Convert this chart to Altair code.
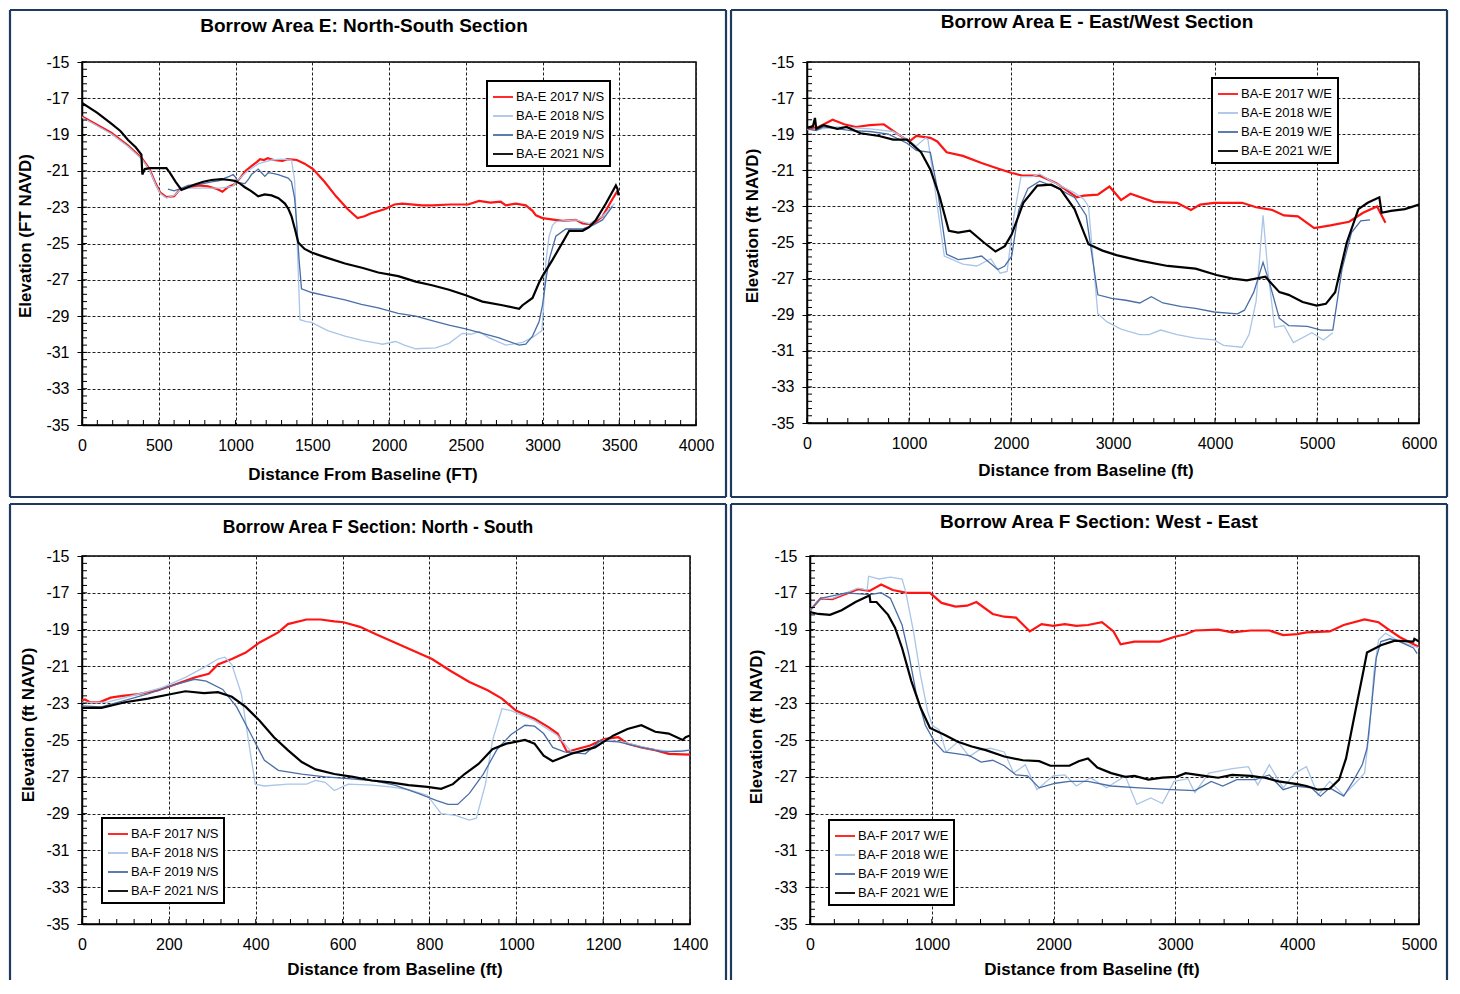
import altair as alt
import pandas as pd

FONT = "Liberation Sans"
NAVY = "#1f3a5f"
COLORS = ["#ff1414", "#a9c5e8", "#4a6ea6", "#000000"]
WIDTHS = [2.2, 1.3, 1.3, 2.2]

# ---------------- Panel 1: Borrow Area E North-South ----------------
E_NS_LABELS = ["BA-E 2017 N/S", "BA-E 2018 N/S", "BA-E 2019 N/S", "BA-E 2021 N/S"]
E_NS_17_X = [0, 190, 300, 390, 440, 480, 510, 550, 600, 640, 700, 760, 820, 880, 915, 950, 990, 1030, 1065, 1110, 1140, 1160, 1185, 1210, 1250, 1305, 1340, 1400, 1450, 1505, 1580, 1655, 1730, 1795, 1840, 1880, 1975, 2035, 2087, 2215, 2283, 2400, 2515, 2587, 2660, 2728, 2761, 2826, 2891, 2935, 2957, 3000, 3130, 3217, 3261, 3326, 3391, 3456, 3489]
E_NS_17_Y = [-18.0, -18.9, -19.6, -20.3, -20.9, -21.7, -22.2, -22.45, -22.4, -22.0, -21.9, -21.8, -21.85, -22.0, -22.15, -21.9, -21.75, -21.4, -21.0, -20.7, -20.5, -20.35, -20.4, -20.3, -20.4, -20.45, -20.35, -20.4, -20.6, -20.9, -21.6, -22.4, -23.1, -23.6, -23.5, -23.35, -23.1, -22.85, -22.8, -22.9, -22.9, -22.85, -22.85, -22.65, -22.75, -22.7, -22.9, -22.8, -22.9, -23.2, -23.45, -23.6, -23.75, -23.7, -23.9, -23.95, -23.5, -22.55, -22.1]
E_NS_18_X = [0, 190, 300, 390, 440, 480, 510, 550, 600, 640, 700, 800, 900, 980, 1015, 1080, 1150, 1235, 1300, 1365, 1385, 1400, 1420, 1460, 1495, 1600, 1713, 1830, 1930, 1957, 2043, 2100, 2174, 2304, 2391, 2478, 2533, 2587, 2652, 2761, 2870, 2940, 2996, 3010, 3022, 3043, 3065, 3087, 3217, 3304, 3391, 3440, 3470]
E_NS_18_Y = [-18.05, -18.95, -19.65, -20.35, -20.95, -21.75, -22.25, -22.5, -22.35, -22.05, -21.95, -21.95, -21.95, -21.85, -21.5, -21.0, -20.6, -20.4, -20.35, -20.4, -21.5, -24.5, -29.2, -29.3, -29.35, -29.8, -30.1, -30.35, -30.5, -30.55, -30.4, -30.6, -30.8, -30.75, -30.5, -29.95, -30.0, -29.85, -30.2, -30.6, -30.45, -30.15, -29.8, -28.0, -26.0, -24.6, -24.0, -23.8, -23.7, -23.9, -23.5, -23.05, -22.8]
E_NS_19_X = [560, 600, 650, 691, 760, 843, 890, 930, 960, 985, 1000, 1017, 1061, 1085, 1104, 1148, 1170, 1191, 1213, 1250, 1278, 1343, 1365, 1385, 1398, 1415, 1430, 1496, 1600, 1713, 1820, 1930, 2060, 2174, 2280, 2391, 2500, 2609, 2717, 2848, 2891, 2935, 2978, 3000, 3022, 3043, 3087, 3152, 3261, 3326, 3391, 3456]
E_NS_19_Y = [-22.0, -22.1, -21.95, -21.8, -21.75, -21.6, -21.55, -21.4, -21.3, -21.2, -21.35, -21.65, -21.7, -21.45, -21.2, -20.9, -21.1, -21.3, -21.1, -21.15, -21.2, -21.4, -21.6, -22.5, -23.8, -26.0, -27.5, -27.7, -27.9, -28.1, -28.35, -28.55, -28.85, -29.0, -29.25, -29.5, -29.7, -29.95, -30.2, -30.6, -30.55, -30.1, -29.3, -28.4, -27.0, -25.9, -24.6, -24.2, -24.2, -24.0, -23.7, -22.95]
E_NS_21_X = [0, 100, 191, 250, 300, 350, 387, 393, 409, 441, 500, 550, 572, 610, 648, 690, 735, 790, 843, 909, 960, 996, 1030, 1061, 1100, 1148, 1190, 1235, 1280, 1322, 1345, 1365, 1390, 1409, 1450, 1496, 1583, 1713, 1830, 1930, 2060, 2174, 2280, 2391, 2500, 2609, 2739, 2848, 2870, 2935, 2978, 3000, 3065, 3130, 3174, 3261, 3304, 3348, 3413, 3478, 3489, 3495]
E_NS_21_Y = [-17.25, -17.8, -18.4, -18.8, -19.3, -19.7, -20.1, -21.2, -20.9, -20.85, -20.85, -20.85, -21.1, -21.6, -22.05, -21.9, -21.75, -21.6, -21.5, -21.45, -21.5, -21.55, -21.7, -21.9, -22.1, -22.4, -22.3, -22.35, -22.5, -22.8, -23.1, -23.5, -24.3, -24.95, -25.3, -25.5, -25.75, -26.1, -26.35, -26.6, -26.8, -27.1, -27.3, -27.55, -27.85, -28.2, -28.4, -28.6, -28.4, -28.0, -27.15, -26.8, -25.9, -24.95, -24.3, -24.3, -24.1, -23.7, -22.8, -21.8, -22.0, -22.35]

# ---------------- Panel 2: Borrow Area E East/West ----------------
E_WE_LABELS = ["BA-E 2017 W/E", "BA-E 2018 W/E", "BA-E 2019 W/E", "BA-E 2021 W/E"]
E_WE_17_X = [0, 114, 251, 365, 479, 616, 753, 890, 1004, 1072, 1209, 1277, 1369, 1528, 1711, 1870, 2007, 2121, 2281, 2440, 2532, 2646, 2714, 2851, 2965, 3079, 3171, 3399, 3627, 3764, 3855, 3992, 4266, 4403, 4562, 4676, 4813, 4973, 5132, 5315, 5452, 5589, 5671]
E_WE_17_Y = [-18.7, -18.6, -18.2, -18.45, -18.6, -18.5, -18.45, -19.0, -19.4, -19.1, -19.2, -19.4, -20.0, -20.2, -20.6, -20.9, -21.15, -21.3, -21.3, -21.7, -22.05, -22.5, -22.4, -22.35, -21.9, -22.65, -22.3, -22.75, -22.8, -23.2, -22.9, -22.8, -22.8, -23.05, -23.2, -23.5, -23.55, -24.2, -24.05, -23.85, -23.35, -23.0, -23.9]
E_WE_18_X = [0, 91, 297, 616, 844, 981, 1072, 1163, 1186, 1255, 1346, 1528, 1665, 1802, 1893, 1962, 2030, 2098, 2212, 2281, 2395, 2623, 2714, 2760, 2851, 2942, 3079, 3262, 3353, 3467, 3627, 3809, 3992, 4083, 4266, 4334, 4403, 4471, 4517, 4585, 4676, 4768, 4950, 5064, 5155]
E_WE_18_Y = [-18.75, -18.75, -18.6, -18.7, -18.85, -19.3, -19.65, -19.2, -19.3, -22.05, -25.75, -26.2, -26.3, -25.9, -26.7, -26.6, -23.5, -21.35, -21.35, -21.2, -21.6, -22.25, -22.6, -23.0, -28.95, -29.4, -29.8, -30.1, -30.1, -29.85, -30.1, -30.3, -30.4, -30.7, -30.8, -30.1, -28.25, -23.5, -26.5, -29.7, -29.6, -30.55, -30.0, -30.4, -30.0]
E_WE_19_X = [0, 91, 160, 433, 616, 798, 981, 1072, 1209, 1277, 1369, 1483, 1620, 1711, 1870, 1939, 2007, 2076, 2167, 2281, 2440, 2623, 2737, 2851, 2988, 3125, 3262, 3376, 3490, 3673, 3809, 3992, 4220, 4289, 4380, 4471, 4540, 4631, 4722, 4905, 5041, 5155, 5246, 5338, 5429, 5520]
E_WE_19_Y = [-18.7, -18.8, -18.6, -18.8, -18.85, -19.0, -19.5, -19.9, -20.0, -22.0, -25.65, -25.95, -25.85, -25.75, -26.5, -26.3, -25.75, -23.2, -22.0, -21.6, -21.95, -22.5, -23.5, -27.9, -28.1, -28.2, -28.35, -28.0, -28.35, -28.55, -28.65, -28.85, -28.95, -28.75, -27.75, -26.1, -27.35, -29.2, -29.6, -29.65, -29.85, -29.85, -26.45, -24.45, -23.8, -23.75]
E_WE_21_X = [0, 59, 78, 91, 160, 297, 388, 525, 707, 844, 981, 1118, 1209, 1300, 1391, 1483, 1597, 1734, 1848, 1939, 2007, 2121, 2258, 2395, 2486, 2623, 2760, 2897, 3034, 3262, 3536, 3809, 4015, 4175, 4312, 4494, 4631, 4722, 4859, 4996, 5087, 5178, 5292, 5406, 5497, 5611, 5634, 5725, 5862, 6000]
E_WE_21_Y = [-18.65, -18.55, -18.1, -18.7, -18.5, -18.7, -18.6, -18.95, -19.1, -19.3, -19.3, -20.0, -20.95, -22.45, -24.35, -24.45, -24.35, -25.0, -25.5, -25.2, -24.55, -22.8, -21.85, -21.8, -22.05, -23.15, -25.1, -25.45, -25.7, -26.0, -26.3, -26.45, -26.8, -27.0, -27.1, -26.9, -27.75, -27.9, -28.3, -28.5, -28.4, -27.75, -25.0, -23.15, -22.8, -22.5, -23.35, -23.25, -23.15, -22.9]

# ---------------- Panel 3: Borrow Area F North-South ----------------
F_NS_LABELS = ["BA-F 2017 N/S", "BA-F 2018 N/S", "BA-F 2019 N/S", "BA-F 2021 N/S"]
F_NS_17_X = [0, 7, 18, 40, 66, 93, 131, 174, 206, 259, 292, 313, 345, 377, 409, 452, 474, 517, 549, 581, 602, 640, 677, 720, 763, 806, 849, 892, 934, 967, 999, 1042, 1074, 1095, 1117, 1138, 1170, 1202, 1235, 1256, 1288, 1320, 1351, 1400]
F_NS_17_Y = [-22.85, -22.8, -22.95, -22.95, -22.7, -22.6, -22.5, -22.3, -22.05, -21.6, -21.4, -20.9, -20.6, -20.25, -19.7, -19.15, -18.7, -18.45, -18.45, -18.55, -18.6, -18.85, -19.25, -19.7, -20.15, -20.6, -21.25, -21.85, -22.3, -22.75, -23.4, -23.85, -24.3, -24.65, -25.65, -25.5, -25.3, -24.95, -24.85, -25.2, -25.4, -25.55, -25.75, -25.8]
F_NS_18_X = [0, 56, 131, 184, 238, 281, 313, 329, 345, 367, 388, 399, 420, 474, 517, 538, 560, 581, 613, 667, 710, 752, 795, 827, 860, 892, 908, 929, 945, 967, 988, 1042, 1095, 1127, 1170, 1202, 1245, 1310, 1351, 1400]
F_NS_18_Y = [-22.95, -22.95, -22.5, -22.15, -21.6, -21.05, -20.6, -20.5, -20.9, -22.5, -25.75, -27.4, -27.5, -27.4, -27.4, -27.2, -27.3, -27.75, -27.4, -27.45, -27.55, -27.7, -28.0, -29.0, -29.1, -29.35, -29.25, -27.4, -25.05, -23.3, -23.4, -23.95, -24.75, -25.65, -25.55, -25.0, -25.1, -25.5, -25.6, -25.55]
F_NS_19_X = [0, 45, 99, 152, 206, 259, 286, 324, 356, 388, 420, 452, 506, 560, 613, 667, 720, 774, 817, 843, 865, 892, 924, 956, 988, 1020, 1042, 1063, 1084, 1111, 1159, 1192, 1235, 1288, 1340, 1383, 1400]
F_NS_19_Y = [-23.15, -23.2, -22.85, -22.5, -22.05, -21.7, -21.8, -22.25, -23.2, -24.65, -26.1, -26.65, -26.85, -27.0, -27.1, -27.2, -27.45, -27.9, -28.3, -28.5, -28.5, -27.9, -26.85, -25.5, -24.7, -24.2, -24.25, -24.65, -25.4, -25.65, -25.75, -25.05, -25.1, -25.4, -25.65, -25.6, -25.55]
F_NS_21_X = [0, 45, 99, 152, 206, 238, 281, 313, 345, 377, 409, 442, 474, 506, 538, 581, 624, 667, 710, 752, 795, 827, 854, 881, 913, 945, 977, 1020, 1042, 1063, 1084, 1127, 1181, 1224, 1256, 1288, 1320, 1351, 1383, 1390, 1400]
F_NS_21_Y = [-23.25, -23.25, -22.95, -22.75, -22.5, -22.35, -22.45, -22.4, -22.65, -23.2, -23.95, -24.85, -25.55, -26.2, -26.6, -26.85, -27.0, -27.2, -27.3, -27.45, -27.55, -27.65, -27.4, -26.85, -26.3, -25.5, -25.2, -25.0, -25.2, -25.85, -26.15, -25.75, -25.4, -24.75, -24.4, -24.2, -24.55, -24.65, -25.0, -24.85, -24.75]

# ---------------- Panel 4: Borrow Area F West-East ----------------
F_WE_LABELS = ["BA-F 2017 W/E", "BA-F 2018 W/E", "BA-F 2019 W/E", "BA-F 2021 W/E"]
F_WE_17_X = [0, 88, 183, 298, 393, 489, 584, 679, 794, 985, 1080, 1195, 1290, 1366, 1500, 1595, 1691, 1805, 1901, 1996, 2092, 2187, 2282, 2397, 2492, 2550, 2664, 2874, 2989, 3084, 3160, 3351, 3466, 3618, 3771, 3885, 4000, 4076, 4267, 4382, 4553, 4668, 4763, 4840, 5000]
F_WE_17_Y = [-17.95, -17.3, -17.35, -17.05, -16.8, -16.9, -16.55, -16.85, -17.0, -17.0, -17.55, -17.75, -17.7, -17.5, -18.15, -18.3, -18.35, -19.1, -18.7, -18.8, -18.7, -18.8, -18.75, -18.6, -19.1, -19.8, -19.65, -19.65, -19.4, -19.25, -19.05, -19.0, -19.15, -19.05, -19.05, -19.3, -19.25, -19.15, -19.1, -18.75, -18.45, -18.6, -19.05, -19.4, -19.95]
F_WE_18_X = [0, 88, 183, 393, 469, 481, 565, 660, 756, 786, 851, 908, 966, 1004, 1061, 1118, 1214, 1309, 1385, 1481, 1595, 1672, 1767, 1863, 1996, 2092, 2187, 2302, 2435, 2588, 2683, 2798, 2893, 2989, 3103, 3160, 3275, 3466, 3599, 3676, 3771, 3885, 3981, 4076, 4172, 4267, 4382, 4477, 4553, 4592, 4630, 4668, 4725, 4840, 5000]
F_WE_18_Y = [-17.95, -17.3, -17.3, -16.75, -16.85, -16.1, -16.25, -16.15, -16.25, -16.95, -19.15, -21.5, -23.45, -24.2, -24.45, -25.65, -25.1, -25.9, -25.55, -25.45, -25.65, -26.8, -26.35, -27.7, -26.95, -26.9, -27.5, -27.05, -27.6, -26.95, -28.5, -28.15, -28.45, -27.25, -27.1, -27.85, -26.8, -26.55, -26.45, -27.45, -26.35, -27.6, -26.8, -26.45, -28.0, -27.25, -28.0, -27.35, -26.8, -24.55, -21.3, -19.55, -19.2, -19.65, -20.0]
F_WE_19_X = [0, 88, 298, 489, 584, 660, 756, 813, 870, 947, 1023, 1099, 1214, 1309, 1405, 1500, 1595, 1691, 1786, 1882, 2015, 2130, 2282, 2473, 2702, 2969, 3160, 3294, 3389, 3504, 3656, 3771, 3885, 3981, 4115, 4191, 4267, 4382, 4458, 4534, 4573, 4611, 4649, 4687, 4763, 4840, 4954, 4985]
F_WE_19_Y = [-17.95, -17.3, -17.0, -17.1, -17.0, -17.3, -18.75, -20.4, -22.4, -24.2, -25.1, -25.65, -25.75, -25.85, -26.2, -26.1, -26.4, -26.9, -26.95, -27.6, -27.35, -27.25, -27.25, -27.5, -27.6, -27.7, -27.75, -27.25, -27.5, -27.15, -27.15, -26.9, -27.7, -27.5, -27.6, -28.05, -27.6, -28.05, -27.25, -26.35, -25.45, -23.1, -20.55, -19.65, -19.5, -19.65, -20.0, -20.3]
F_WE_21_X = [0, 69, 164, 260, 374, 469, 489, 496, 546, 641, 698, 756, 832, 908, 985, 1099, 1214, 1328, 1443, 1595, 1748, 1882, 1973, 2130, 2206, 2282, 2359, 2473, 2588, 2664, 2779, 2893, 3008, 3084, 3237, 3351, 3466, 3618, 3733, 3847, 4000, 4076, 4172, 4267, 4344, 4401, 4477, 4542, 4573, 4687, 4802, 4954, 4962, 5000]
F_WE_21_Y = [-18.05, -18.15, -18.2, -17.95, -17.5, -17.2, -17.15, -17.5, -17.5, -18.2, -18.9, -20.0, -21.8, -23.25, -24.35, -24.7, -25.1, -25.35, -25.55, -25.9, -26.1, -26.15, -26.4, -26.4, -26.15, -26.0, -26.5, -26.8, -27.0, -26.95, -27.15, -27.05, -27.0, -26.8, -26.95, -27.05, -26.9, -26.95, -27.05, -27.25, -27.4, -27.5, -27.7, -27.65, -27.15, -26.0, -23.45, -21.3, -20.25, -19.85, -19.6, -19.65, -19.5, -19.65]

Y_TICKS = list(range(-35, -14, 2))


def make_df(labels, xs_list, ys_list):
    rows = []
    for lab, w, xs, ys in zip(labels, WIDTHS, xs_list, ys_list):
        for x, y in zip(xs, ys):
            rows.append({"series": lab, "w": w, "x": x, "y": y})
    return pd.DataFrame(rows)


ONE = pd.DataFrame({"a": [0]})


def text_layer(txt, x, y, size, angle=0):
    return alt.Chart(ONE).mark_text(
        text=txt, font=FONT, fontSize=size, fontWeight="bold", color="black",
        align="center", baseline="middle", angle=angle
    ).encode(x=alt.value(x), y=alt.value(y))


def seg(x1, y1, x2, y2):
    return alt.Chart(ONE).mark_rule(color=NAVY, strokeWidth=2.2).encode(
        x=alt.value(x1), x2=alt.value(x2), y=alt.value(y1), y2=alt.value(y2)
    )


def panel(labels, xs, ys, xmax, xstep, W, H, title, tsize, tpos, xtitle, xtpos,
          ytitle, ytpos, lpos, box, bottom_edge):
    df = make_df(labels, xs, ys)
    xscale = alt.Scale(domain=[0, xmax], nice=False, zero=False)
    yscale = alt.Scale(domain=[-35, -15], nice=False, zero=False)
    xaxis = alt.Axis(values=list(range(0, xmax + 1, xstep)), title=None, grid=True, ticks=False,
                     labelPadding=12, labelExpr="'' + datum.value", labelFlush=False,
                     labelOverlap=False)
    yaxis = alt.Axis(values=Y_TICKS, title=None, grid=True, tickSize=5, labelPadding=8,
                     labelExpr="'' + datum.value", labelFlush=False, labelOverlap=False)
    leg = alt.Legend(title=None, orient="none", legendX=lpos[0], legendY=lpos[1])
    lines = alt.Chart(df).mark_line(clip=True).encode(
        x=alt.X("x:Q", scale=xscale, axis=xaxis),
        y=alt.Y("y:Q", scale=yscale, axis=yaxis),
        color=alt.Color("series:N", scale=alt.Scale(domain=labels, range=COLORS), legend=leg),
        strokeWidth=alt.StrokeWidth("w:Q", scale=None),
    )
    minor_x = pd.DataFrame({"x": [i * xstep / 5 for i in range(0, 5 * xmax // xstep + 1)]})
    minor_y = pd.DataFrame({"y": [-35 + 0.4 * i for i in range(0, 51)]})
    mx = alt.Chart(minor_x).mark_rule(color="black", strokeWidth=1).encode(
        x=alt.X("x:Q", scale=xscale, axis=xaxis), y=alt.value(H - 5), y2=alt.value(H))
    my = alt.Chart(minor_y).mark_rule(color="black", strokeWidth=1).encode(
        y=alt.Y("y:Q", scale=yscale, axis=yaxis), x=alt.value(0), x2=alt.value(5))
    l, r, t, b = box
    borders = [seg(l, t, r, t), seg(l, t, l, b), seg(r, t, r, b)]
    if bottom_edge:
        borders.append(seg(l, b, r, b))
    texts = [
        text_layer(title, tpos[0], tpos[1], tsize),
        text_layer(xtitle, xtpos[0], xtpos[1], 17),
        text_layer(ytitle, ytpos[0], ytpos[1], 17, angle=270),
    ]
    return alt.layer(lines, mx, my, *borders, *texts).properties(width=W, height=H)


p1 = panel(E_NS_LABELS, [E_NS_17_X, E_NS_18_X, E_NS_19_X, E_NS_21_X],
           [E_NS_17_Y, E_NS_18_Y, E_NS_19_Y, E_NS_21_Y], 4000, 500, 614, 363,
           "Borrow Area E: North-South Section", 19, (282, -36),
           "Distance From Baseline (FT)", (281, 413),
           "Elevation (FT NAVD)", (-56, 174), (405, 19), (-72, 644, -52, 435), True)
p2 = panel(E_WE_LABELS, [E_WE_17_X, E_WE_18_X, E_WE_19_X, E_WE_21_X],
           [E_WE_17_Y, E_WE_18_Y, E_WE_19_Y, E_WE_21_Y], 6000, 1000, 612, 361,
           "Borrow Area E - East/West Section", 19, (290, -40),
           "Distance from Baseline (ft)", (279, 409),
           "Elevation (ft NAVD)", (-54, 164), (405, 16), (-76, 640, -52, 435), True)
p3 = panel(F_NS_LABELS, [F_NS_17_X, F_NS_18_X, F_NS_19_X, F_NS_21_X],
           [F_NS_17_Y, F_NS_18_Y, F_NS_19_Y, F_NS_21_Y], 1400, 200, 608, 368,
           "Borrow Area F Section: North - South", 17.5, (296, -28),
           "Distance from Baseline (ft)", (313, 414),
           "Elevation (ft NAVD)", (-53, 169), (20, 262), (-72, 644, -52, 424), False)
p4 = panel(F_WE_LABELS, [F_WE_17_X, F_WE_18_X, F_WE_19_X, F_WE_21_X],
           [F_WE_17_Y, F_WE_18_Y, F_WE_19_Y, F_WE_21_Y], 5000, 1000, 609, 368,
           "Borrow Area F Section: West - East", 19, (289, -34),
           "Distance from Baseline (ft)", (282, 414),
           "Elevation (ft NAVD)", (-53, 171), (19, 264), (-79, 637, -52, 424), False)

chart = alt.concat(
    p1, p2, p3, p4, columns=2, align="none", bounds="full",
    spacing=alt.RowColnumber(row=3, column=1)
).resolve_scale(color="independent").resolve_legend(color="independent").properties(
    padding=0, background="white"
).configure_view(
    stroke="black", strokeWidth=1.5
).configure_axis(
    labelFont=FONT, labelFontSize=16, labelColor="black",
    gridColor="#222222", gridDash=[3, 2], gridWidth=1, gridOpacity=1,
    domainColor="black", domainWidth=1.5, tickColor="black", tickWidth=1
).configure_legend(
    strokeColor="black", strokeWidth=2, fillColor="white", padding=5,
    labelFont=FONT, labelFontSize=13, labelColor="black", symbolType="stroke",
    symbolSize=400, rowPadding=1, labelOffset=2, cornerRadius=0, symbolStrokeWidth=1.8
)

chart.save("out.html", embed_options={"renderer": "svg", "actions": False})
